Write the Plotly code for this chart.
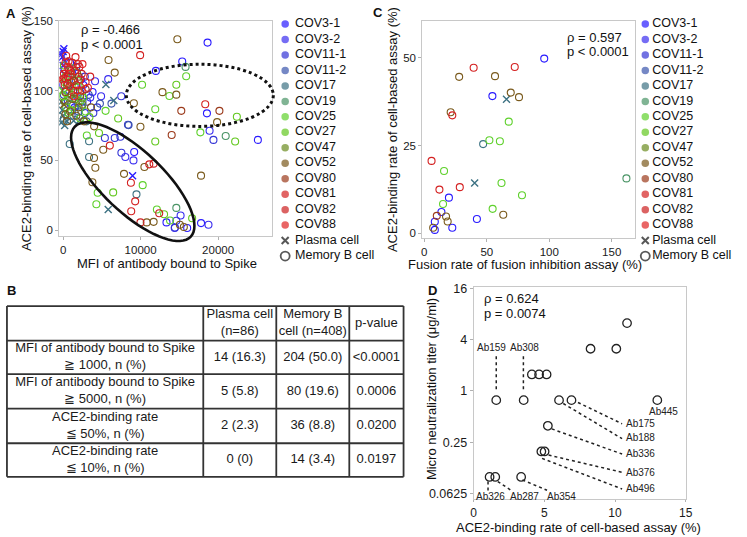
import math
import plotly.graph_objects as go

FONT = "Liberation Sans, Arial, sans-serif"
W, H = 747, 537

# ---------------- categories ----------------
DONORS = ["COV3-1", "COV3-2", "COV11-1", "COV11-2", "COV17", "COV19", "COV25",
          "COV27", "COV47", "COV52", "COV80", "COV81", "COV82", "COV88"]
DONOR_COLORS = ["#2a1bff", "#3a2df0", "#3535d6", "#3b55ad", "#3d7283", "#4a9466", "#5fd12c",
                "#63c81f", "#6b8b1f", "#7a5a1c", "#9b3a1b", "#d42121", "#cc2020", "#e02424"]
CELL_TYPES = ["Plasma cell", "Memory B cell"]

# ---------------- panel A data: (MFI, ACE2-binding %) ----------------
A_MEM = {
    "COV3-1": [(18640, 134.4), (15370, 120.9), (11970, 114.1), (18560, 83.7), (25130, 64.7), (9170, 56),
               (13340, 5.6), (16010, 1.6), (17800, 5.1), (1200, 112), (2600, 104), (400, 100), (1800, 96),
               (3100, 92), (2300, 108), (900, 120), (3800, 99), (200, 115), (1500, 88), (2800, 84)],
    "COV3-2": [(5820, 108.2), (4120, 106.7), (18900, 71.3), (8030, 52.4), (9080, 50), (14400, 1.6),
               (18760, 3.9), (15160, 10.6), (800, 108), (2200, 99), (3500, 95), (1000, 90), (4900, 96),
               (0, 104), (1700, 117), (2500, 92)],
    "COV11-1": [(19400, 64.7), (8370, 75.5), (7520, 55.5), (6660, 66.1), (7390, 67), (5390, 66.1),
                (14610, 6.8), (14430, 2), (2800, 110), (1500, 103), (600, 93), (4400, 88), (7500, 96),
                (100, 97), (3900, 84)],
    "COV11-2": [(8450, 75.3), (6240, 90.7), (4750, 90.7), (2000, 85), (300, 88), (3300, 97), (1100, 82)],
    "COV17": [(850, 61.8), (3350, 63.7), (3350, 52.4), (9470, 25.7), (1500, 84), (2400, 88), (100, 80),
              (3000, 78)],
    "COV19": [(15800, 117), (20980, 67.5), (14610, 16), (700, 95), (2000, 91), (1300, 108)],
    "COV25": [(15880, 110.3), (10190, 104.2), (13720, 96.1), (11890, 86.7), (17710, 70.1), (3060, 67.8),
              (10270, 32.3), (4460, 26.9), (4290, 18.6), (12100, 14.8), (13800, 7), (5480, 85.5),
              (300, 110), (900, 103), (1600, 99), (2300, 93), (400, 88), (2900, 85), (1100, 116),
              (0, 96), (700, 84), (2000, 103)],
    "COV27": [(14610, 104.2), (22420, 81.3), (11890, 63.5), (4630, 69.6), (6460, 27.1), (13030, 11.5),
              (16650, 8.6), (22200, 63.5), (100, 118), (700, 98), (1900, 107), (3400, 81), (1300, 90),
              (2600, 95), (7100, 80), (200, 106), (1000, 86), (2200, 80)],
    "COV47": [(500, 104), (1100, 97), (2500, 90), (1800, 113), (200, 92), (900, 110), (1600, 94)],
    "COV52": [(14740, 136.8), (5860, 121.9), (6660, 112.9), (12820, 98.9), (14610, 97.1), (9130, 90.9),
              (19870, 77.4), (9980, 74.1), (17800, 39.1), (4000, 74.4), (5180, 57.6), (3990, 51.7),
              (4160, 44.8), (10490, 45.3), (7860, 40.4), (3780, 34.4), (10790, 5.6), (11680, 6),
              (15070, 3.9), (15580, 2.3), (900, 85), (1700, 82), (2700, 78), (300, 83), (2200, 96),
              (1400, 107), (3600, 88), (500, 78), (2000, 88), (1200, 94)],
    "COV80": [(15250, 85.5), (20170, 85.5), (14010, 68.2), (600, 105), (1300, 100), (2000, 110), (2900, 101),
              (1000, 114), (300, 99)],
    "COV81": [(9940, 125.4), (18340, 90.2), (6030, 60.6), (11120, 47.2), (8750, 34), (9300, 20.7),
              (8790, 13.6), (400, 125), (1200, 120), (2100, 117), (800, 115), (2900, 106), (3500, 110),
              (1600, 124), (100, 112), (2400, 100)],
    "COV82": [(11680, 47.7), (12400, 12.2), (9980, 5.6), (1500, 114), (600, 110), (2400, 112), (1700, 104),
              (200, 104), (700, 121), (1900, 119), (1100, 106)],
    "COV88": [(300, 120), (1000, 112), (1900, 100), (3200, 102), (0, 108), (1400, 96), (2500, 119),
              (800, 103), (2200, 108), (600, 117)],
}
A_PLASMA = {
    "COV3-1": [(0, 128), (100, 130), (-100, 124), (200, 121), (8960, 39.1)],
    "COV3-2": [(0, 118), (-200, 126), (100, 112)],
    "COV17": [(5520, 104.4), (6540, 93), (5820, 14.8), (-250, 77), (500, 78), (1360, 78.4), (2160, 79),
              (0, 82), (-100, 86), (200, 75), (-200, 92)],
    "COV25": [(300, 95), (-100, 100)],
    "COV52": [(100, 90)],
    "COV81": [(200, 112), (-200, 108)],
}

# ---------------- panel C data: (fusion rate %, ACE2-binding %) ----------------
C_MEM = {
    "COV3-1": [(96, 49.8), (54.5, 39.1), (19.7, 10.1), (13.7, 6), (42.1, 4), (8.4, 3.2), (22.4, 1.5), (8.4, 0.9)],
    "COV17": [(47.1, 25.4)],
    "COV19": [(161.8, 15.6)],
    "COV25": [(67.6, 31.8), (52.1, 26.5), (60.5, 26.2), (15.8, 17.7), (61.8, 14.3), (78.2, 10.8), (15, 8.3),
              (54.7, 6.9)],
    "COV52": [(27.9, 44.6), (56.6, 44.8), (69.2, 40.1), (75.8, 38.8), (21.1, 34.5), (63.2, 5.2), (17.4, 4.7),
              (18.7, 3.3), (7.1, 1.5)],
    "COV80": [(10, 4.9)],
    "COV81": [(39.5, 47.2), (72.4, 47.4), (22.4, 33.6), (5.8, 20.6), (12.1, 12.4), (28.4, 13.1)],
}
C_PLASMA = {
    "COV17": [(65.8, 38.2), (40.3, 14.3)],
}

# ---------------- panel B table ----------------
B_HEADER = ["", "Plasma cell<br>(n=86)", "Memory B<br>cell (n=408)", "p-value"]
B_ROWS = [
    ["MFI of antibody bound to Spike<br>≧ 1000, n (%)", "14 (16.3)", "204 (50.0)", "<0.0001"],
    ["MFI of antibody bound to Spike<br>≧ 5000, n (%)", "5 (5.8)", "80 (19.6)", "0.0006"],
    ["ACE2-binding rate<br>≦ 50%, n (%)", "2 (2.3)", "36 (8.8)", "0.0200"],
    ["ACE2-binding rate<br>≦ 10%, n (%)", "0 (0)", "14 (3.4)", "0.0197"],
]

# ---------------- panel D data ----------------
D_X = [10.85, 8.27, 10.09, 4.12, 4.63, 5.16, 1.6, 3.54, 6.04, 6.92, 12.99, 5.25, 4.79, 5.02, 1.13, 1.53, 3.36]
D_Y = [6.25, 3.125, 3.125, 1.5625, 1.5625, 1.5625, 0.78, 0.78, 0.78, 0.78, 0.78, 0.39, 0.195, 0.195,
       0.098, 0.098, 0.098]
D_LABELS = ["", "", "", "", "", "", "Ab159", "Ab308", "Ab188", "Ab175", "Ab445", "Ab336", "Ab496",
            "Ab376", "Ab326", "Ab287", "Ab354"]
D_YTICKS = [0.0625, 0.25, 1, 4, 16]
D_YTICKTEXT = ["0.0625", "0.25", "1", "4", "16"]

# ---------------- layout positions (label placement) ----------------
# label anchor (x, log2 y, xanchor) and leader line (x0, log2 y0, x1, log2 y1)
D_LABEL_POS = {
    "Ab159": (1.25, 1.69, "center", (1.6, 1.35, 1.6, 0.05)),
    "Ab308": (3.61, 1.69, "center", (3.52, 1.35, 3.52, 0.05)),
    "Ab445": (13.4, -0.81, "center", None),
    "Ab175": (10.65, -1.26, "left", (7.38, -0.45, 10.5, -1.28)),
    "Ab188": (10.65, -1.83, "left", (6.34, -0.49, 10.5, -1.86)),
    "Ab336": (10.65, -2.42, "left", (5.53, -1.48, 10.5, -2.46)),
    "Ab376": (10.65, -3.18, "left", (5.3, -2.5, 10.5, -3.17)),
    "Ab496": (10.65, -3.81, "left", (4.84, -2.63, 10.5, -3.82)),
    "Ab326": (1.18, -4.10, "center", (1.02, -3.53, 1.02, -3.91)),
    "Ab287": (3.61, -4.10, "center", (1.71, -3.53, 2.64, -3.87)),
    "Ab354": (6.18, -4.10, "center", (3.45, -3.47, 5.19, -3.87)),
}

fig = go.Figure()


def pts(lst):
    return [p[0] for p in lst], [p[1] for p in lst]


# panel A & C scatter
for name, color in zip(DONORS, DONOR_COLORS):
    for mem, pla, xa, ya in ((A_MEM, A_PLASMA, "x", "y"), (C_MEM, C_PLASMA, "x2", "y2")):
        if name in mem:
            xs, ys = pts(mem[name])
            fig.add_trace(go.Scatter(x=xs, y=ys, mode="markers", xaxis=xa, yaxis=ya, showlegend=False,
                                     marker=dict(symbol="circle-open", size=7, color=color,
                                                 line=dict(width=1.1, color=color))))
        if name in pla:
            xs, ys = pts(pla[name])
            fig.add_trace(go.Scatter(x=xs, y=ys, mode="markers", xaxis=xa, yaxis=ya, showlegend=False,
                                     marker=dict(symbol="x-thin", size=7, color=color,
                                                 line=dict(width=1.4, color=color))))

# panel D
fig.add_trace(go.Scatter(x=D_X, y=D_Y, mode="markers", xaxis="x3", yaxis="y3", showlegend=False,
                         marker=dict(symbol="circle-open", size=8.5, color="#222",
                                     line=dict(width=1.3, color="#222"))))
lx, ly = [], []
for lab in D_LABELS:
    if lab and D_LABEL_POS[lab][3]:
        x0, y0, x1, y1 = D_LABEL_POS[lab][3]
        lx += [x0, x1, None]
        ly += [2 ** y0, 2 ** y1, None]
fig.add_trace(go.Scatter(x=lx, y=ly, mode="lines", xaxis="x3", yaxis="y3", showlegend=False,
                         line=dict(color="#222", width=1.5, dash="dot")))

# legends (overlay pixel axis x4/y4)
LEG_SYMBOLS = ["circle"] * len(DONORS) + ["x-thin", "circle-open"]
LEG_COLORS = DONOR_COLORS + ["#111", "#111"]
LEG_NAMES = DONORS + CELL_TYPES
for mx, tx in ((286, 296), (651, 658)):
    ys = [18.3 + i * 15.67 for i in range(len(LEG_NAMES))]
    fig.add_trace(go.Scatter(x=[mx] * len(ys), y=ys, mode="markers", xaxis="x4", yaxis="y4",
                             showlegend=False, cliponaxis=False,
                             marker=dict(symbol=LEG_SYMBOLS, size=[7.5] * len(DONORS) + [7, 9],
                                         color=LEG_COLORS,
                                         line=dict(width=[0] * len(DONORS) + [2, 1.8], color=LEG_COLORS))))
    fig.add_trace(go.Scatter(x=[tx] * len(ys), y=ys, mode="text", text=LEG_NAMES, textposition="middle right",
                             xaxis="x4", yaxis="y4", showlegend=False, cliponaxis=False,
                             textfont=dict(family=FONT, size=12.5, color="#111")))

# table B text
COL_EDGES = [4, 203, 277, 351, 406]
ROW_EDGES = [304, 339, 373, 408, 443, 477]
tx, ty, tt = [], [], []
for r, row in enumerate([B_HEADER] + B_ROWS):
    for c, val in enumerate(row):
        if val:
            tx.append((COL_EDGES[c] + COL_EDGES[c + 1]) / 2)
            ty.append((ROW_EDGES[r] + ROW_EDGES[r + 1]) / 2)
            tt.append(val)
fig.add_trace(go.Scatter(x=tx, y=ty, text=tt, mode="text", textposition="middle center", xaxis="x4",
                         yaxis="y4", showlegend=False, cliponaxis=False,
                         textfont=dict(family=FONT, size=13, color="#1a1a1a")))

shapes = []
for xe in COL_EDGES:
    shapes.append(dict(type="line", xref="x4", yref="y4", x0=xe, x1=xe, y0=ROW_EDGES[0], y1=ROW_EDGES[-1],
                       line=dict(color="#333", width=1.8)))
for ye in ROW_EDGES:
    shapes.append(dict(type="line", xref="x4", yref="y4", x0=COL_EDGES[0], x1=COL_EDGES[-1], y0=ye, y1=ye,
                       line=dict(color="#333", width=1.8)))
# ellipses in panel A
shapes.append(dict(type="circle", xref="x4", yref="y4", x0=125, x1=274, y0=59, y1=122,
                   line=dict(color="#111", width=3, dash="dot")))
cx, cy, ea, eb, ang = 131.5, 178, 81, 31, math.radians(43.5)
path = []
for i in range(73):
    t = 2 * math.pi * i / 72
    px = cx + ea * math.cos(t) * math.cos(ang) - eb * math.sin(t) * math.sin(ang)
    py = cy + ea * math.cos(t) * math.sin(ang) + eb * math.sin(t) * math.cos(ang)
    path.append(("M" if i == 0 else "L") + f"{px:.2f},{py:.2f}")
shapes.append(dict(type="path", xref="x4", yref="y4", path=" ".join(path) + " Z",
                   line=dict(color="#111", width=2.6)))

# D labels
annotations = []
for lab in D_LABELS:
    if lab:
        x, l2, xan, _ = D_LABEL_POS[lab]
        annotations.append(dict(x=x, y=l2 * math.log10(2), xref="x3", yref="y3", text=lab, showarrow=False,
                                xanchor=xan, yanchor="middle", font=dict(family=FONT, size=10, color="#222")))


def ann(text, x, y, size=13, xanchor="center", angle=0, bold=False):
    annotations.append(dict(x=x, y=y, xref="x4", yref="y4", text=f"<b>{text}</b>" if bold else text,
                            showarrow=False, xanchor=xanchor, yanchor="middle", textangle=angle,
                            font=dict(family=FONT, size=size, color="#111")))


ann("A", 1, 8, 13, "left", bold=True)
ann("C", 373, 7, 13, "left", bold=True)
ann("B", 2, 288, 13, "left", bold=True)
ann("D", 429, 288, 13, "left", bold=True)
ann("ρ = -0.466", 77, 24, 13, "left")
ann("p < 0.0001", 77, 39.5, 13, "left")
ann("ρ = 0.597", 570, 31.5, 13, "left")
ann("p < 0.0001", 570, 46.5, 13, "left")
ann("ρ = 0.624", 485, 296, 13, "left")
ann("p = 0.0074", 485, 312, 13, "left")
ann("MFI of antibody bound to Spike", 166, 261)
ann("ACE2-binding rate of cell-based assay (%)", 24, 124, angle=-90)
ann("Fusion rate of fusion inhibition assay (%)", 529, 262)
ann("ACE2-binding rate of cell-based assay (%)", 395, 125, angle=-90)
ann("ACE2-binding rate of cell-based assay (%)", 583, 528)
ann("Micro neutralization titer (μg/ml)", 435, 388, angle=-90)

axis_common = dict(showline=True, linecolor="#c8c8c8", linewidth=1, mirror=True, ticks="outside",
                   ticklen=3, tickcolor="#b0b0b0", showgrid=False, zeroline=False,
                   tickfont=dict(family=FONT, size=11.5, color="#1a1a1a"))


def dom_x(a, b):
    return [a / W, b / W]


def dom_y(top, bottom):
    return [1 - bottom / H, 1 - top / H]


fig.update_layout(
    width=W, height=H, margin=dict(l=0, r=0, t=0, b=0), paper_bgcolor="white",
    plot_bgcolor="rgba(0,0,0,0)", showlegend=False,
    xaxis=dict(axis_common, domain=dom_x(57, 273), range=[-500, 27000], tickvals=[0, 10000, 20000],
               ticktext=["0", "10000", "20000"], anchor="y"),
    yaxis=dict(axis_common, domain=dom_y(15, 233), range=[-4.1, 150], tickvals=[0, 50, 100, 150], anchor="x"),
    xaxis2=dict(axis_common, domain=dom_x(425, 641), range=[-1.6, 169], tickvals=[0, 50, 100, 150],
                anchor="y2"),
    yaxis2=dict(axis_common, domain=dom_y(15, 235), range=[-1.4, 60.6], tickvals=[0, 25, 50], anchor="x2"),
    xaxis3=dict(axis_common, domain=dom_x(477, 692), range=[0, 15], tickvals=[0, 5, 10, 15], anchor="y3",
                ticklen=2, tickfont=dict(family=FONT, size=12, color="#1a1a1a")),
    yaxis3=dict(axis_common, domain=dom_y(285, 500), type="log", range=[-1.2735, 1.216], tickvals=D_YTICKS,
                ticktext=D_YTICKTEXT, anchor="x3", tickfont=dict(family=FONT, size=12.5, color="#1a1a1a")),
    xaxis4=dict(domain=[0, 1], range=[0, W], visible=False, anchor="y4", fixedrange=True),
    yaxis4=dict(domain=[0, 1], range=[H, 0], visible=False, anchor="x4", fixedrange=True),
    shapes=shapes, annotations=annotations,
)

fig.write_html("out.html", config={"displayModeBar": False},
               post_script="document.body.style.margin='0px';document.body.style.overflow='hidden';")
